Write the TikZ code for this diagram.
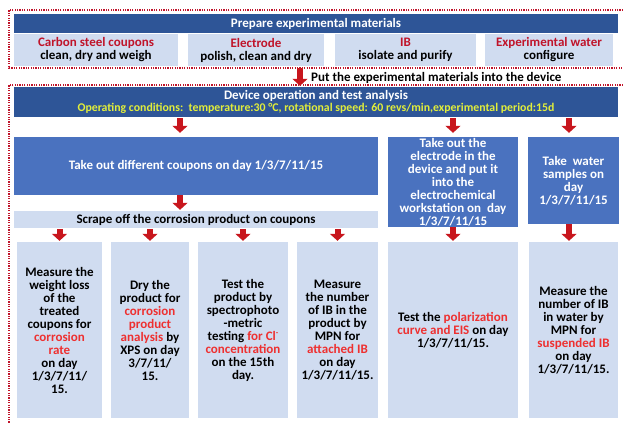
\documentclass[tikz,border=0pt]{standalone}
\usepackage{fontspec}
\setmainfont{Carlito}
\usetikzlibrary{arrows.meta}
\definecolor{hdrblue}{HTML}{2E5597}
\definecolor{boxblue}{HTML}{4A72BF}
\definecolor{lightbox}{HTML}{D0DCF0}
\definecolor{darkred}{HTML}{C0142A}
\definecolor{brightred}{HTML}{EE3030}
\definecolor{ylw}{HTML}{E2EE3A}
\definecolor{arrred}{HTML}{C8161D}
\begin{document}
\begin{tikzpicture}[x=1bp,y=-1bp,
  txt/.style={font=\fontsize{13bp}{13bp}\selectfont\bfseries, align=center, inner sep=0pt},
  hdr/.style={txt, fill=hdrblue, text=white},
  bluebox/.style={txt, fill=boxblue, text=white},
  lbox/.style={txt, fill=lightbox, text=black},
  barrow/.style={draw=arrred, line width=6bp, -{Triangle[width=15bp,length=7bp]}},
  reddot/.style={draw=darkred, line width=1.3bp, dash pattern=on 1.2bp off 1.2bp},
]
\useasboundingbox (0,0) rectangle (623,423);
\fill[white] (0,0) rectangle (623,423);
% frames
\draw[reddot] (623,10) -- (9,10) -- (9,68) -- (623,68);
\draw[reddot] (623,85) -- (9,85) -- (9,423);
% top section
\node[hdr, minimum width=604bp, minimum height=19bp] (hdr1) at (316,23.5) {Prepare experimental materials};
\node[lbox, minimum width=164bp, minimum height=32bp] (ma) at (96,50) {\textcolor{darkred}{Carbon steel coupons}\\clean, dry and weigh};
\node[lbox, minimum width=136bp, minimum height=32bp] (mb) at (256,50) {\textcolor{darkred}{Electrode}\\polish, clean and dry};
\node[lbox, minimum width=141bp, minimum height=32bp] (mc) at (405.5,50) {\textcolor{darkred}{IB}\\isolate and purify};
\node[lbox, minimum width=128bp, minimum height=32bp] (md) at (549,50) {\textcolor{darkred}{Experimental water}\\configure};
% second section
\node[hdr, minimum width=604bp, minimum height=30bp] (hdr2) at (316,102) {Device operation and test analysis\\[-0.5bp]\textcolor{ylw}{\fontsize{11.8bp}{12bp}\selectfont Operating conditions:\ \ temperature:30 °C, rotational speed: 60 revs/min,experimental period:15d}};
\node[txt, anchor=west] (put) at (311,77.5) {Put the experimental materials into the device};
\coordinate (p300) at (300,0);
\draw[barrow, shorten <=2bp, shorten >=1bp] (mb.south -| p300) -- (hdr2.north -| p300);

\node[bluebox, minimum width=364bp, minimum height=58bp] (take) at (196,166) {Take out different coupons on day 1/3/7/11/15};
\node[bluebox, minimum width=130bp, minimum height=90bp] (elec) at (453,182) {Take out the\\electrode in the\\device and put it\\into the\\electrochemical\\workstation on\ \ day\\1/3/7/11/15};
\node[bluebox, minimum width=91bp, minimum height=87bp] (water) at (573.5,180.5) {Take\ \ water\\samples on\\day\\1/3/7/11/15};
\node[lbox, minimum width=364bp, minimum height=17bp] (scrape) at (196,219.5) {Scrape off the corrosion product on coupons};

\node[lbox, minimum width=85bp, minimum height=176bp] (r1) at (59.5,330) {Measure the\\weight loss\\of the\\treated\\coupons for\\\textcolor{brightred}{corrosion}\\\textcolor{brightred}{rate}\\on day\\1/3/7/11/\\15.};
\node[lbox, minimum width=78bp, minimum height=176bp] (r2) at (150,330) {Dry the\\product for\\\textcolor{brightred}{corrosion}\\\textcolor{brightred}{product}\\\textcolor{brightred}{analysis} by\\XPS on day\\3/7/11/\\15.};
\node[lbox, minimum width=90bp, minimum height=176bp] (r3) at (243,330) {Test the\\product by\\spectrophoto\\-metric\\testing \textcolor{brightred}{for Cl\smash{\raisebox{0.8ex}{\fontsize{8bp}{8bp}\selectfont -}}}\\\textcolor{brightred}{concentration}\\on the 15th\\day.};
\node[lbox, minimum width=81bp, minimum height=176bp] (r4) at (337.5,330) {Measure\\the number\\of IB in the\\product by\\MPN for\\\textcolor{brightred}{attached IB}\\on day\\1/3/7/11/15.};
\node[lbox, minimum width=130bp, minimum height=176bp] (r5) at (453,330) {Test the \textcolor{brightred}{polarization}\\\textcolor{brightred}{curve and EIS} on day\\1/3/7/11/15.};
\node[lbox, minimum width=89bp, minimum height=176bp] (r6) at (573.5,330) {Measure the\\number of IB\\in water by\\MPN for\\\textcolor{brightred}{suspended IB}\\on day\\1/3/7/11/15.};

% arrows
\coordinate (p180) at (180,0);
\coordinate (p569) at (569,0);
\draw[barrow, shorten <=1bp, shorten >=4bp] (hdr2.south -| p180) -- (take.north -| p180);
\draw[barrow, shorten <=1bp, shorten >=4bp] (hdr2.south -| elec.north) -- (elec.north);
\draw[barrow, shorten <=1bp, shorten >=4bp] (hdr2.south -| p569) -- (water.north -| p569);
\draw[barrow, shorten <=0bp, shorten >=1bp] (take.south -| p180) -- (scrape.north -| p180);
\draw[barrow, shorten <=1bp, shorten >=1bp] (scrape.south -| r1.north) -- (r1.north);
\draw[barrow, shorten <=1bp, shorten >=1bp] (scrape.south -| r2.north) -- (r2.north);
\draw[barrow, shorten <=1bp, shorten >=1bp] (scrape.south -| r3.north) -- (r3.north);
\draw[barrow, shorten <=1bp, shorten >=1bp] (scrape.south -| r4.north) -- (r4.north);
\draw[barrow, shorten <=0bp, shorten >=1bp] (elec.south) -- (r5.north);
\draw[barrow, shorten <=0bp, shorten >=1bp] (water.south -| p569) -- (r6.north -| p569);
\end{tikzpicture}
\end{document}
